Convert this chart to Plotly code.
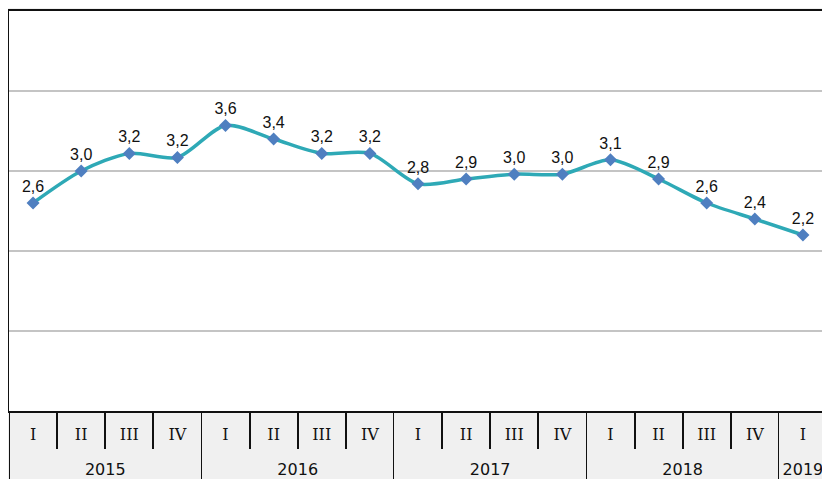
import plotly.graph_objects as go

years = ["2015"] * 4 + ["2016"] * 4 + ["2017"] * 4 + ["2018"] * 4 + ["2019"]
quarters = ["I", "II", "III", "IV"] * 4 + ["I"]
values = [2.60, 3.00, 3.22, 3.17, 3.57, 3.40, 3.22, 3.22, 2.84, 2.90, 2.96, 2.96, 3.14, 2.90, 2.60, 2.40, 2.20]
labels = [f"{v:.1f}".replace(".", ",") for v in values]

quarter_ticks = [
    "<span style='font-family:DejaVu Serif'>" + q + "</span><br><span style='font-size:22px'> </span>"
    for q in quarters
]

fig = go.Figure()
fig.add_trace(go.Scatter(
    x=[years, quarter_ticks],
    y=values,
    mode="lines+markers+text",
    line=dict(color="#2ea9b6", width=3.5, shape="spline", smoothing=0.8),
    marker=dict(symbol="diamond", size=10, color="#4f7fc0"),
    text=labels,
    textposition="top center",
    textfont=dict(family="Liberation Sans, Arial, sans-serif", size=16, color="#111111"),
    cliponaxis=False,
    showlegend=False,
))

fig.update_layout(
    width=822, height=471,
    margin=dict(l=1, r=1, t=1, b=68),
    paper_bgcolor="#f0f0f0",
    plot_bgcolor="#ffffff",
    font=dict(family="DejaVu Sans, Verdana, sans-serif", size=16, color="#111111"),
    xaxis=dict(
        type="multicategory",
        range=[-0.5, 16.5],
        showline=True, linecolor="#111111", linewidth=2, mirror=True,
        ticks="outside", ticklen=36, tickcolor="#111111", tickwidth=2,
        ticklabelstandoff=8,
        showdividers=True, dividercolor="#111111", dividerwidth=1,
        showgrid=False,
        tickfont=dict(family="DejaVu Sans, Verdana, sans-serif", size=16, color="#111111"),
    ),
    yaxis=dict(
        range=[0, 5], dtick=1, showticklabels=False,
        showgrid=True, gridcolor="#c4c4c4", gridwidth=1.5,
        showline=True, linecolor="#111111", linewidth=2, mirror=True,
        zeroline=False, ticks="",
    ),
)

fig.write_html("out.html")
